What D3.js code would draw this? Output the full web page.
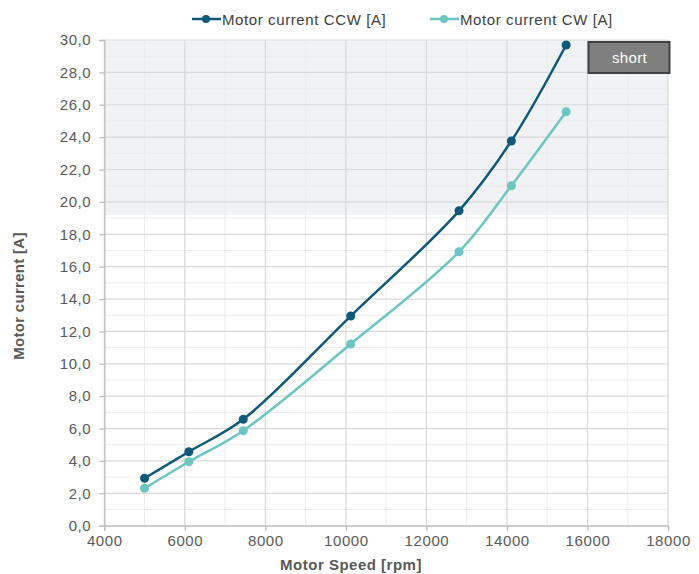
<!DOCTYPE html>
<html><head><meta charset="utf-8">
<script src="https://cdn.jsdelivr.net/npm/d3@7"></script>
<style>body{margin:0;background:#fff;font-family:"Liberation Sans",Arial,sans-serif}</style>
</head><body><svg id="c" width="699" height="574"></svg>
<script>
const speed = [5000, 6100, 7450, 10120, 12810, 14110, 15470];
const ccw = [2.93, 4.57, 6.57, 12.95, 19.45, 23.76, 29.69];
const cw = [2.31, 3.95, 5.87, 11.22, 16.92, 21.0, 25.57];
const seriesNames = ["Motor current CCW [A]", "Motor current CW [A]"];
const xTicks = [4000, 6000, 8000, 10000, 12000, 14000, 16000, 18000];
const yTicks = [0, 2, 4, 6, 8, 10, 12, 14, 16, 18, 20, 22, 24, 26, 28, 30];
const shortZone = [19.2, 30];
const shortLabel = "short";

const svg = d3.select("#c");
const x = d3.scaleLinear().domain([4000, 18000]).range([104.3, 668]);
const y = d3.scaleLinear().domain([0, 30]).range([525.7, 40]);
const colors = ["#0f5878", "#6cc5c1"];
const fmt = v => d3.format(".1f")(v).replace(".", ",");
const FS = 15, LS = 0.6;

// shaded zone
svg.append("rect").attr("x", x(4000)).attr("width", x(18000) - x(4000))
  .attr("y", y(shortZone[1])).attr("height", y(shortZone[0]) - y(shortZone[1]))
  .attr("fill", "#f1f2f4");

// minor grid
const minorX = d3.range(4000, 18001, 1000).filter(v => v % 2000 !== 0);
const minorY = d3.range(0, 30.01, 1).filter(v => v % 2 !== 0);
svg.append("g").selectAll("line").data(minorX).join("line")
  .attr("x1", d => x(d)).attr("x2", d => x(d)).attr("y1", y(0)).attr("y2", y(30))
  .attr("stroke", "#ececec").attr("stroke-width", 1);
svg.append("g").selectAll("line").data(minorY).join("line")
  .attr("y1", d => y(d)).attr("y2", d => y(d)).attr("x1", x(4000)).attr("x2", x(18000))
  .attr("stroke", "#ececec").attr("stroke-width", 1);
// major grid
svg.append("g").selectAll("line").data(xTicks).join("line")
  .attr("x1", d => x(d)).attr("x2", d => x(d)).attr("y1", y(0)).attr("y2", y(30))
  .attr("stroke", "#d9d9d9").attr("stroke-width", 1.2);
svg.append("g").selectAll("line").data(yTicks).join("line")
  .attr("y1", d => y(d)).attr("y2", d => y(d)).attr("x1", x(4000)).attr("x2", x(18000))
  .attr("stroke", "#d9d9d9").attr("stroke-width", 1.2);

// axes
const xAxis = svg.append("g").attr("transform", `translate(0,${y(0)})`)
  .call(d3.axisBottom(x).tickValues(xTicks).tickFormat(d3.format("d")).tickSize(5).tickPadding(5));
const yAxis = svg.append("g").attr("transform", `translate(${x(4000)},0)`)
  .call(d3.axisLeft(y).tickValues(yTicks).tickFormat(fmt).tickSize(5).tickPadding(8));
[xAxis, yAxis].forEach(a => {
  a.selectAll("path,line").attr("stroke", "#bfbfbf").attr("stroke-width", 1.3);
  a.selectAll("text").attr("fill", "#595959").attr("font-size", FS).attr("letter-spacing", LS)
    .attr("font-family", "'Liberation Sans',Arial,sans-serif");
});

// short box
svg.append("rect").attr("x", 588.5).attr("y", 42).attr("width", 81).attr("height", 31)
  .attr("fill", "#7f7f7f").attr("stroke", "#404040").attr("stroke-width", 2);
svg.append("text").attr("x", 629.5).attr("y", 63).attr("text-anchor", "middle")
  .attr("fill", "#fff").attr("font-size", FS).attr("letter-spacing", 0.3).text(shortLabel);

// lines
const data = [ccw, cw];
const line = d3.line().x((d, i) => x(speed[i])).y(d => y(d)).curve(d3.curveCatmullRom.alpha(0.5));
data.forEach((s, k) => {
  svg.append("path").attr("d", line(s)).attr("fill", "none")
    .attr("stroke", colors[k]).attr("stroke-width", 2.5);
  svg.append("g").selectAll("circle").data(s).join("circle")
    .attr("cx", (d, i) => x(speed[i])).attr("cy", d => y(d)).attr("r", 4.5)
    .attr("fill", colors[k]);
});

// legend
const legX = [192, 430];
seriesNames.forEach((n, k) => {
  const g = svg.append("g").attr("transform", `translate(${legX[k]},19)`);
  g.append("line").attr("x1", 0).attr("x2", 29).attr("stroke", colors[k]).attr("stroke-width", 2.5);
  g.append("circle").attr("cx", 14).attr("r", 4).attr("fill", colors[k]);
  g.append("text").attr("x", 30).attr("y", 5.5).attr("fill", "#404040").attr("font-size", FS)
    .attr("letter-spacing", LS).text(n);
});

// axis titles
svg.append("text").attr("x", 351).attr("y", 569.5).attr("text-anchor", "middle")
  .attr("font-weight", "bold").attr("font-size", FS).attr("letter-spacing", 0.5)
  .attr("fill", "#595959").text("Motor Speed [rpm]");
svg.append("text").attr("transform", "translate(24,296) rotate(-90)").attr("text-anchor", "middle")
  .attr("font-weight", "bold").attr("font-size", FS).attr("letter-spacing", 0.3)
  .attr("fill", "#595959").text("Motor current [A]");
</script></body></html>
